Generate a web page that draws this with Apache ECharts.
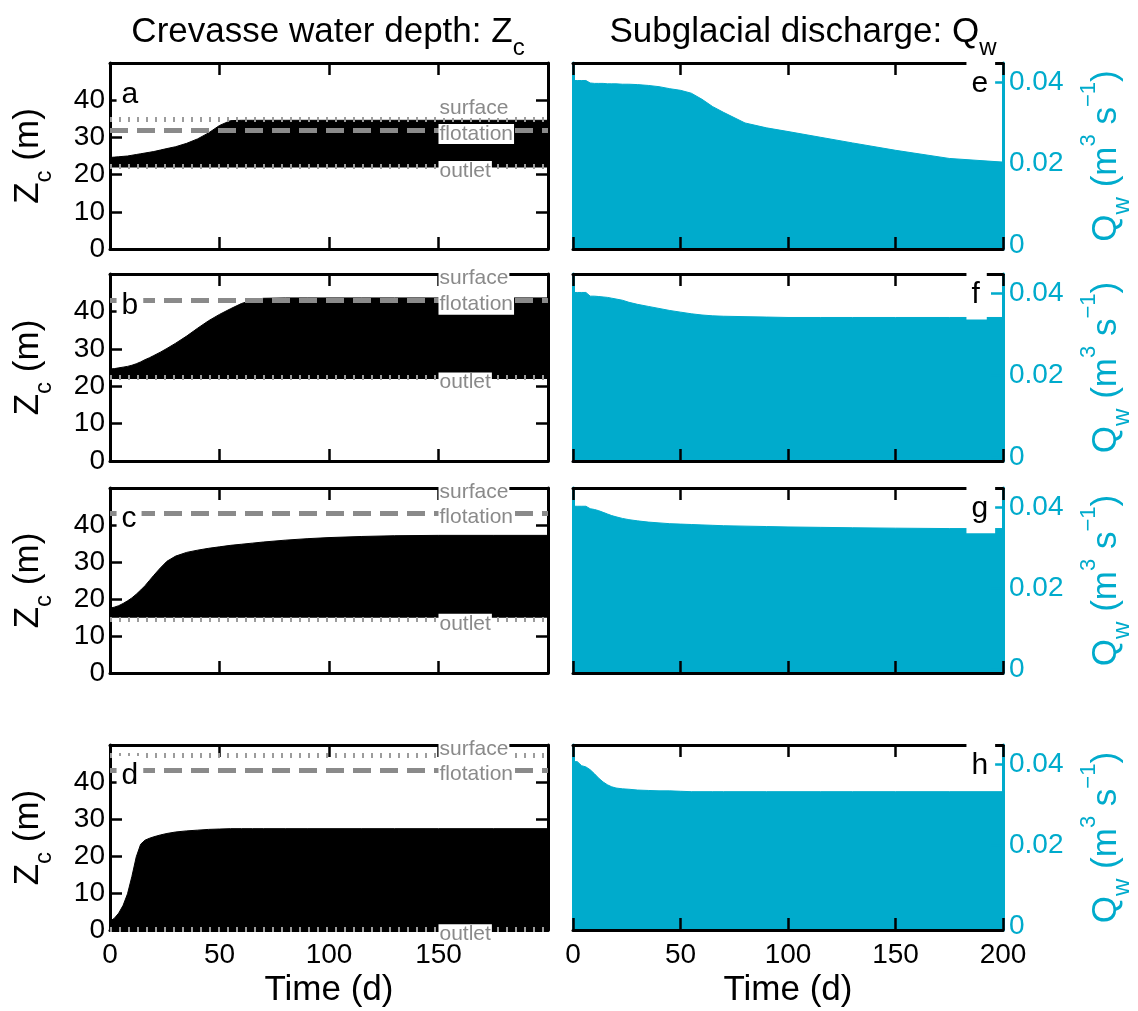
<!DOCTYPE html>
<html>
<head>
<meta charset="utf-8">
<title>Crevasse water depth and subglacial discharge</title>
<script src="https://cdn.jsdelivr.net/npm/echarts@6.0.0/dist/echarts.min.js"></script>
<style>
  html, body { margin: 0; padding: 0; background: #fff; }
  #main { width: 1138px; height: 1011px; }
</style>
</head>
<body>
<div id="main"></div>
<script>
var days = [0, 2, 4, 6, 8, 10, 12, 14, 16, 18,
            20, 23, 26, 30, 35, 40, 45, 50, 55, 60,
            65, 70, 80, 90, 100, 115, 130, 150, 175, 200];

// upper envelope of crevasse water depth Zc (m), panels a-d
var zcTopA = [24.6, 24.7, 24.8, 24.9, 25.0, 25.2, 25.4, 25.6, 25.8, 26.0,
              26.2, 26.6, 27.0, 27.5, 28.4, 29.6, 31.2, 33.2, 34.5, 34.6,
              34.6, 34.6, 34.6, 34.6, 34.6, 34.6, 34.6, 34.6, 34.6, 34.6];
var zcTopB = [24.6, 24.7, 24.9, 25.1, 25.3, 25.6, 26.0, 26.5, 27.1, 27.6,
              28.2, 29.1, 30.1, 31.5, 33.4, 35.5, 37.5, 39.2, 40.7, 42.1,
              43.0, 43.5, 43.6, 43.6, 43.6, 43.6, 43.6, 43.6, 43.6, 43.6];
var zcTopC = [17.5, 17.8, 18.2, 18.8, 19.5, 20.3, 21.3, 22.4, 23.6, 25.0,
              26.4, 28.4, 30.2, 31.6, 32.6, 33.2, 33.7, 34.1, 34.5, 34.8,
              35.1, 35.4, 35.9, 36.3, 36.6, 36.9, 37.1, 37.2, 37.2, 37.2];
var zcTopD = [2.4, 3.2, 4.6, 6.7, 9.8, 14.5, 19.8, 23.2, 24.3, 24.8,
              25.2, 25.7, 26.1, 26.5, 26.8, 27.0, 27.2, 27.3, 27.4, 27.4,
              27.4, 27.4, 27.4, 27.4, 27.4, 27.4, 27.4, 27.4, 27.4, 27.4];
// lower edge of the oscillation band (m)
var zcBottom = [21.9, 21.9, 14.9, 0.2];

// reference levels (m); null = above the plotted range
var surfaceLevel   = [34.9, null, null, 47.3];
var flotationLevel = [32.0, 42.9, 43.2, 43.1];
var outletLevel    = [22.3, 22.3, 14.6, 0.2];

// upper envelope of subglacial discharge Qw (m3/s), panels e-h
var qTopE = [0.0404, 0.0404, 0.0404, 0.0404, 0.0398, 0.0397, 0.0397, 0.0397, 0.0396, 0.0396,
             0.0396, 0.0395, 0.0395, 0.0394, 0.0392, 0.0389, 0.0384, 0.0380, 0.0373, 0.0358,
             0.0340, 0.0326, 0.0300, 0.0288, 0.0279, 0.0265, 0.0251, 0.0233, 0.0213, 0.0204];
var qTopF = [0.0402, 0.0402, 0.0402, 0.0402, 0.0393, 0.0393, 0.0392, 0.0391, 0.0390, 0.0388,
             0.0386, 0.0383, 0.0378, 0.0373, 0.0368, 0.0363, 0.0358, 0.0354, 0.0350, 0.0347,
             0.0345, 0.0344, 0.0343, 0.0342, 0.0341, 0.0341, 0.0341, 0.0341, 0.0341, 0.0341];
var qTopG = [0.0402, 0.0402, 0.0402, 0.0402, 0.0396, 0.0394, 0.0391, 0.0387, 0.0383, 0.0379,
             0.0376, 0.0372, 0.0369, 0.0366, 0.0363, 0.0361, 0.0359, 0.0358, 0.0357, 0.0356,
             0.0355, 0.0354, 0.0353, 0.0352, 0.0351, 0.0350, 0.0349, 0.0348, 0.0347, 0.0347];
var qTopH = [0.0406, 0.0406, 0.0396, 0.0393, 0.0386, 0.0376, 0.0365, 0.0356, 0.0349, 0.0344,
             0.0341, 0.0339, 0.0338, 0.0336, 0.0335, 0.0334, 0.0334, 0.0333, 0.0332, 0.0332,
             0.0332, 0.0332, 0.0332, 0.0332, 0.0332, 0.0332, 0.0332, 0.0332, 0.0332, 0.0332];
var qGap = 0.0002;   // thin light line just above zero

// tick labels
var timeTicks = [0, 50, 100, 150, 200];
var zcTicks = [0, 10, 20, 30, 40];
var qTicks = [0, 0.02, 0.04];

var leftLetters = ['a', 'b', 'c', 'd'];
var rightLetters = ['e', 'f', 'g', 'h'];

var FONT = '"Liberation Sans", Arial, Helvetica, sans-serif';
var CYAN = '#00abcc';
var GREY = '#8a8a8a';
var DOT_GREY = '#9c9c9c';
var Q_MIN = -0.0009, Q_MAX = 0.0447;

var rowTop = [63, 274, 488, 745];
var rowHeight = [186, 187, 185, 187];

var zcTops = [zcTopA, zcTopB, zcTopC, zcTopD];
var qTops = [qTopE, qTopF, qTopG, qTopH];

function pairs(xs, ys) {
  return xs.map(function (x, k) { return [x, ys[k]]; });
}
function flat(xs, v) {
  return xs.map(function (x) { return [x, v]; });
}
function rich(color) {
  return {
    m: { fontSize: 35, lineHeight: 56, verticalAlign: 'middle', color: color, fontFamily: FONT, fontWeight: 'normal' },
    b: { fontSize: 24, lineHeight: 22, verticalAlign: 'bottom', color: color, fontFamily: FONT, fontWeight: 'normal' },
    p: { fontSize: 22, lineHeight: 22, verticalAlign: 'top', color: color, fontFamily: FONT, fontWeight: 'normal' }
  };
}

var tickStyle = { show: true, inside: true, length: 12, lineStyle: { color: '#000', width: 2.5 } };
var blackLine = { show: true, onZero: false, lineStyle: { color: '#000', width: 3 } };
var cyanLine = { show: true, onZero: false, lineStyle: { color: CYAN, width: 3 } };
var tickFont = { fontSize: 28, fontFamily: FONT, lineHeight: 28 };

function timeAxis(grid, pos, labels, lastLabel) {
  var ax = {
    type: 'value', gridIndex: grid, position: pos, min: 0, max: 200, interval: 50, z: 3,
    axisLine: blackLine, axisTick: tickStyle, splitLine: { show: false },
    axisLabel: Object.assign({ show: labels, color: '#000', margin: 11, showMaxLabel: lastLabel }, tickFont)
  };
  if (labels) {
    ax.name = 'Time (d)';
    ax.nameLocation = 'middle';
    ax.nameGap = 37;
    ax.nameTextStyle = { fontSize: 35, lineHeight: 40, color: '#000', fontFamily: FONT };
  }
  return ax;
}

var grids = [], xAxes = [], yAxes = [], series = [];
var dotted = { type: [2, 7], width: 5, color: DOT_GREY, cap: 'butt' };
var dashed = { type: [18, 9], width: 5, color: GREY, cap: 'butt' };
var greyTag = { show: true, position: 'inside', align: 'left', verticalAlign: 'middle', fontSize: 21,
  lineHeight: 20, color: GREY, backgroundColor: '#fff', padding: [0, 1], fontFamily: FONT,
  formatter: function (p) { return p.name; } };
var letterTag = { show: true, position: 'inside', align: 'left', verticalAlign: 'middle', fontSize: 30,
  lineHeight: 36, color: '#000', backgroundColor: '#fff', fontFamily: FONT,
  formatter: function (p) { return p.name; } };

for (var i = 0; i < 4; i++) {
  var last = i === 3;
  grids.push({ left: 110, top: rowTop[i], width: 438, height: rowHeight[i] });
  grids.push({ left: 573, top: rowTop[i], width: 430, height: rowHeight[i] });
  var gl = 2 * i, gr = 2 * i + 1;

  xAxes.push(timeAxis(gl, 'bottom', last, false));
  xAxes.push(timeAxis(gl, 'top', false, false));
  xAxes.push(timeAxis(gr, 'bottom', last, true));
  xAxes.push(timeAxis(gr, 'top', false, false));

  yAxes.push({
    type: 'value', gridIndex: gl, position: 'left', min: 0, max: 50, interval: 10, z: 3,
    axisLine: blackLine, axisTick: tickStyle, splitLine: { show: false },
    axisLabel: Object.assign({ color: '#000', margin: 5, showMaxLabel: false }, tickFont),
    name: '{m|Z}{b|c}{m| (m)}', nameLocation: 'middle', nameRotate: 90, nameGap: 54,
    nameTextStyle: { rich: rich('#000') }
  });
  yAxes.push({
    type: 'value', gridIndex: gl, position: 'right', min: 0, max: 50, interval: 10, z: 3,
    axisLine: blackLine, axisTick: tickStyle, splitLine: { show: false }, axisLabel: { show: false }
  });
  yAxes.push({
    type: 'value', gridIndex: gr, position: 'left', min: Q_MIN, max: Q_MAX, z: 3,
    axisLine: cyanLine, axisTick: { show: false }, splitLine: { show: false }, axisLabel: { show: false }
  });
  yAxes.push({
    type: 'value', gridIndex: gr, position: 'right', min: Q_MIN, max: Q_MAX, z: 3,
    axisLine: cyanLine, splitLine: { show: false },
    axisTick: { show: true, inside: true, length: 12, customValues: qTicks,
      lineStyle: { color: CYAN, width: 2.5 } },
    axisLabel: Object.assign({ color: CYAN, margin: 6, customValues: qTicks,
      formatter: function (v) { return v === 0 ? '0' : v.toFixed(2); } }, tickFont),
    name: '{m|Q}{b|w}{m| (m}{p|3}{m| s}{p|\u22121}{m|)}', nameLocation: 'middle', nameRotate: 90,
    nameGap: 75, nameTextStyle: { rich: rich(CYAN) }
  });

  var xl = 4 * i, yl = 4 * i, xr = 4 * i + 2, yr = 4 * i + 2;

  // black band of daily oscillations: fill up to the upper envelope, then blank below the lower edge
  series.push({
    type: 'line', xAxisIndex: xl, yAxisIndex: yl, data: pairs(days, zcTops[i]),
    symbol: 'none', silent: true, z: 2,
    lineStyle: { color: '#000', width: 1 },
    areaStyle: { color: '#000', opacity: 1, origin: 'start' }
  });
  var levels = [
    { yAxis: flotationLevel[i], lineStyle: dashed },
    { yAxis: outletLevel[i], lineStyle: dotted }
  ];
  if (surfaceLevel[i] !== null) levels.push({ yAxis: surfaceLevel[i], lineStyle: dotted });
  series.push({
    type: 'line', xAxisIndex: xl, yAxisIndex: yl, data: flat(days, zcBottom[i]),
    symbol: 'none', silent: true, z: 2,
    lineStyle: { width: 0 },
    areaStyle: { color: '#fff', opacity: 1, origin: 'start' },
    markLine: { silent: true, symbol: ['none', 'none'], label: { show: false }, animation: false, data: levels }
  });

  var surfY = surfaceLevel[i] === null ? 48.9 : Math.min(surfaceLevel[i] + 3, 48.9);
  series.push({
    type: 'scatter', xAxisIndex: xl, yAxisIndex: yl, symbolSize: 0, silent: true, clip: false, z: 10,
    itemStyle: { opacity: 1 },
    label: greyTag,
    data: [
      { name: leftLetters[i], value: [3, 41.6], label: Object.assign({}, letterTag, { padding: [2, 5] }) },
      { name: 'surface', value: [150, surfY] },
      { name: 'flotation', value: [150, flotationLevel[i] - 1.1] },
      { name: 'outlet', value: [150, outletLevel[i] - 1.3] }
    ]
  });

  series.push({
    type: 'line', xAxisIndex: xr, yAxisIndex: yr, data: pairs(days, qTops[i]),
    symbol: 'none', silent: true, z: 2,
    lineStyle: { color: CYAN, width: 1 },
    areaStyle: { color: CYAN, opacity: 1, origin: 'start' },
    markLine: { silent: true, z: 2, symbol: ['none', 'none'], label: { show: false }, animation: false,
      data: [{ yAxis: qGap, lineStyle: { color: '#e6f6fa', width: 1.5, type: 'solid' } }] }
  });
  series.push({
    type: 'scatter', xAxisIndex: xr, yAxisIndex: yr, symbolSize: 0, silent: true, clip: false, z: 10,
    itemStyle: { opacity: 1 },
    label: Object.assign({}, letterTag, { padding: [11, 7, 2, 5] }),
    data: [{ name: rightLetters[i], value: [183, 0.0396] }]
  });
}

var option = {
  animation: false,
  backgroundColor: '#fff',
  textStyle: { fontFamily: FONT },
  title: [
    { text: '{m|Crevasse water depth: Z}{b|c}', left: 328, top: 4, padding: 0,
      textAlign: 'center', textVerticalAlign: 'top',
      textStyle: { fontWeight: 'normal', rich: rich('#000') } },
    { text: '{m|Subglacial discharge: Q}{b|w}', left: 803, top: 4, padding: 0,
      textAlign: 'center', textVerticalAlign: 'top',
      textStyle: { fontWeight: 'normal', rich: rich('#000') } }
  ],
  grid: grids,
  xAxis: xAxes,
  yAxis: yAxes,
  series: series
};

var chart = echarts.init(document.getElementById('main'), null, { renderer: 'canvas' });
chart.setOption(option);
</script>
</body>
</html>
